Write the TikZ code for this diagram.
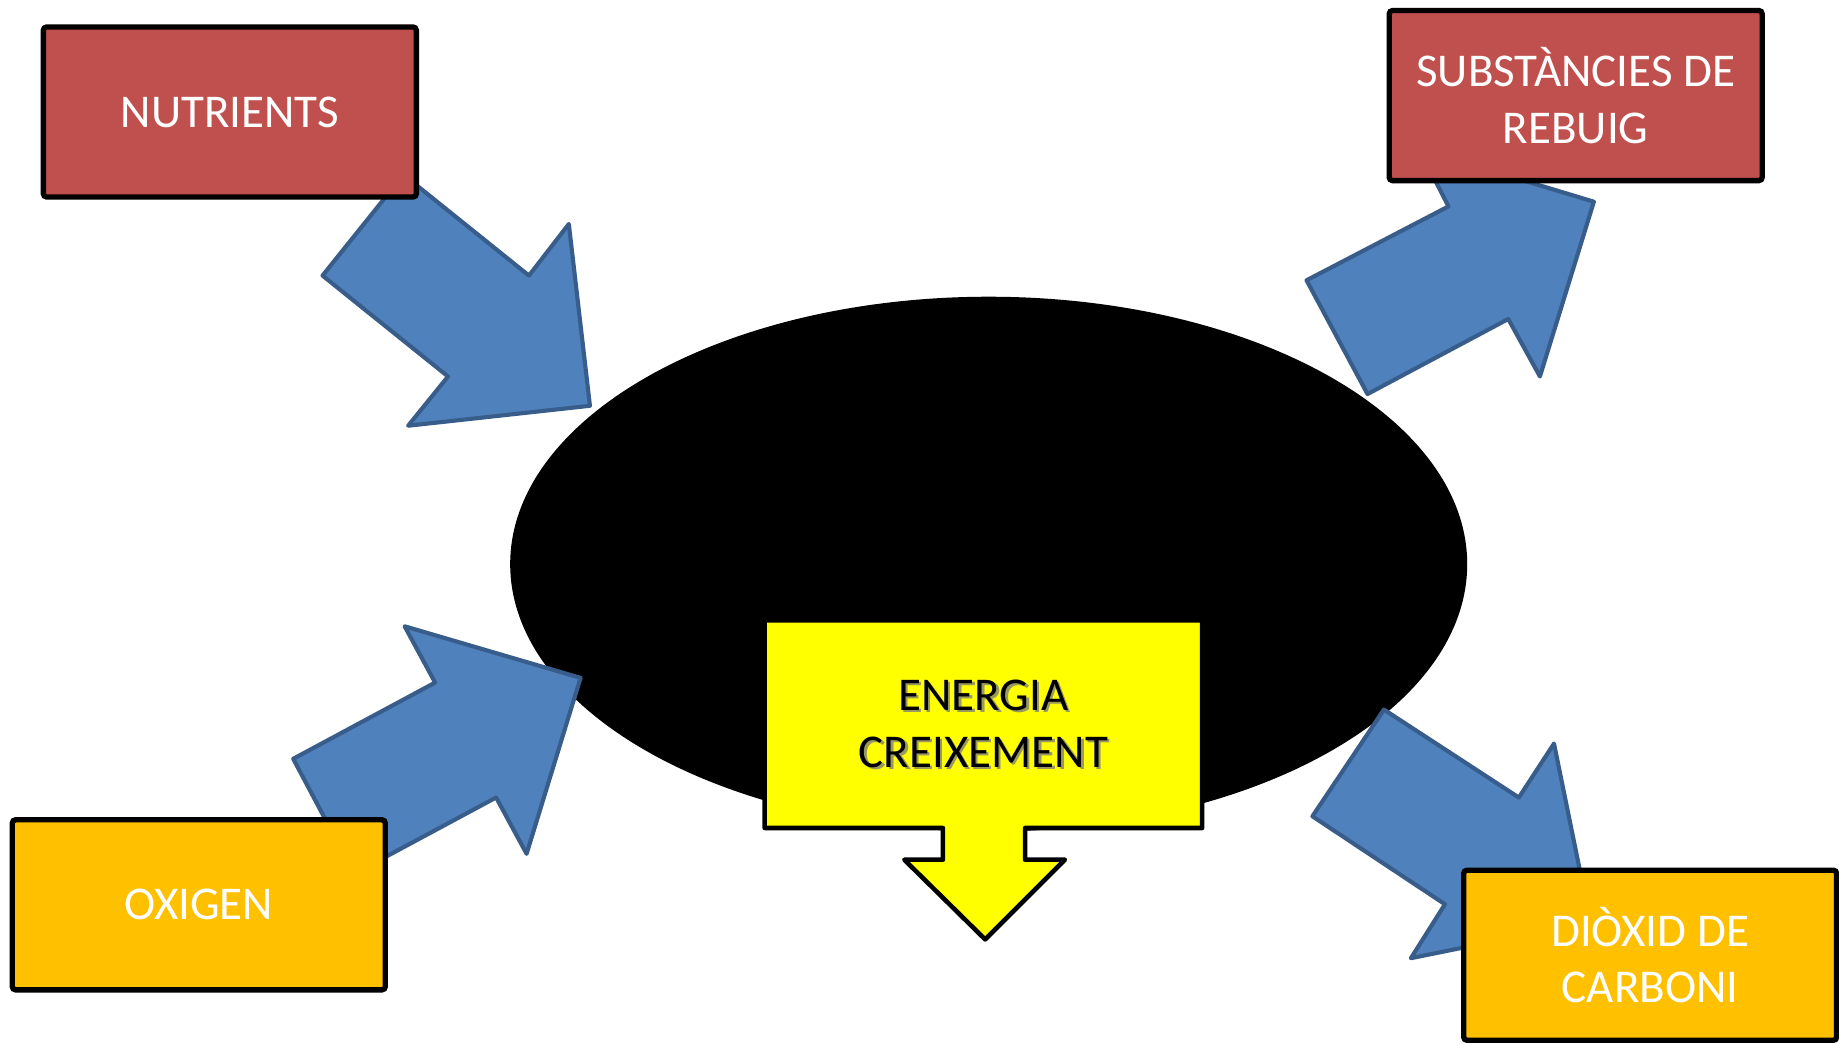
\documentclass[tikz,border=0pt]{standalone}
\usepackage{fontspec}
\setmainfont{Carlito}
\usepackage{tikz}
\usetikzlibrary{shapes.geometric}

\definecolor{boxred}{HTML}{C0504D}
\definecolor{boxorange}{HTML}{FFC000}
\definecolor{arrowblue}{HTML}{4F81BD}
\definecolor{arrowedge}{HTML}{385D8A}
\definecolor{calloutyellow}{HTML}{FFFF00}
\definecolor{shadowgrey}{HTML}{9A9A60}

\tikzset{
  box/.style={draw=black, line width=1.3pt, rounded corners=0.8pt, minimum width=31.8mm,
    minimum height=14.5mm, inner sep=0pt, text=white, align=center,
    font=\fontsize{11.4}{13.7}\selectfont},
  blockarrow/.style={fill=arrowblue, draw=arrowedge, line width=1pt, line join=round},
  label/.style={align=center, inner sep=0pt, font=\fontsize{11.4}{13.8}\selectfont}
}

\begin{document}
\begin{tikzpicture}[x=0.1mm,y=-0.1mm]
\useasboundingbox (0,0) rectangle (1568,889);
\node[ellipse, fill=black, inner sep=0pt, minimum width=81.6mm, minimum height=45.6mm] (cell) at (843,481) {};
\draw[blockarrow] (275,235) -- (344,149) -- (451,235) -- (485,191) -- (503,346) -- (348,363) -- (382,321) -- cycle;
\draw[blockarrow] (1114,239) -- (1235,176) -- (1210,127) -- (1359,172) -- (1313,321) -- (1286,272) -- (1166,336) -- cycle;
\draw[blockarrow] (250,647) -- (371,582) -- (345,534) -- (495,578) -- (449,728) -- (423,680) -- (302,745) -- cycle;
\draw[blockarrow] (1180,605) -- (1295,680) -- (1325,634) -- (1356,786) -- (1203,817) -- (1232,771) -- (1119,696) -- cycle;
\draw[fill=calloutyellow, line width=1.1pt, line join=round] (652,529) -- (1025,529) -- (1025,706) -- (874,706) -- (874,733) -- (908,733)
  -- (840,801) -- (771,733) -- (804,733) -- (804,706) -- (652,706) -- cycle;
\node[label, text=shadowgrey] at (840.5,619) {ENERGIA\\CREIXEMENT};
\node[label] (energia) at (838.5,617) {ENERGIA\\CREIXEMENT};
\node[box, fill=boxred] (nutrients) at (196,95.5) {NUTRIENTS};
\node[box, fill=boxred] (rebuig) at (1343.5,81.5) {SUBSTÀNCIES DE\\REBUIG};
\node[box, fill=boxorange] (oxigen) at (169.5,771.5) {OXIGEN};
\node[box, fill=boxorange] (dioxid) at (1407,814.5) {DIÒXID DE\\CARBONI};
\end{tikzpicture}
\end{document}
